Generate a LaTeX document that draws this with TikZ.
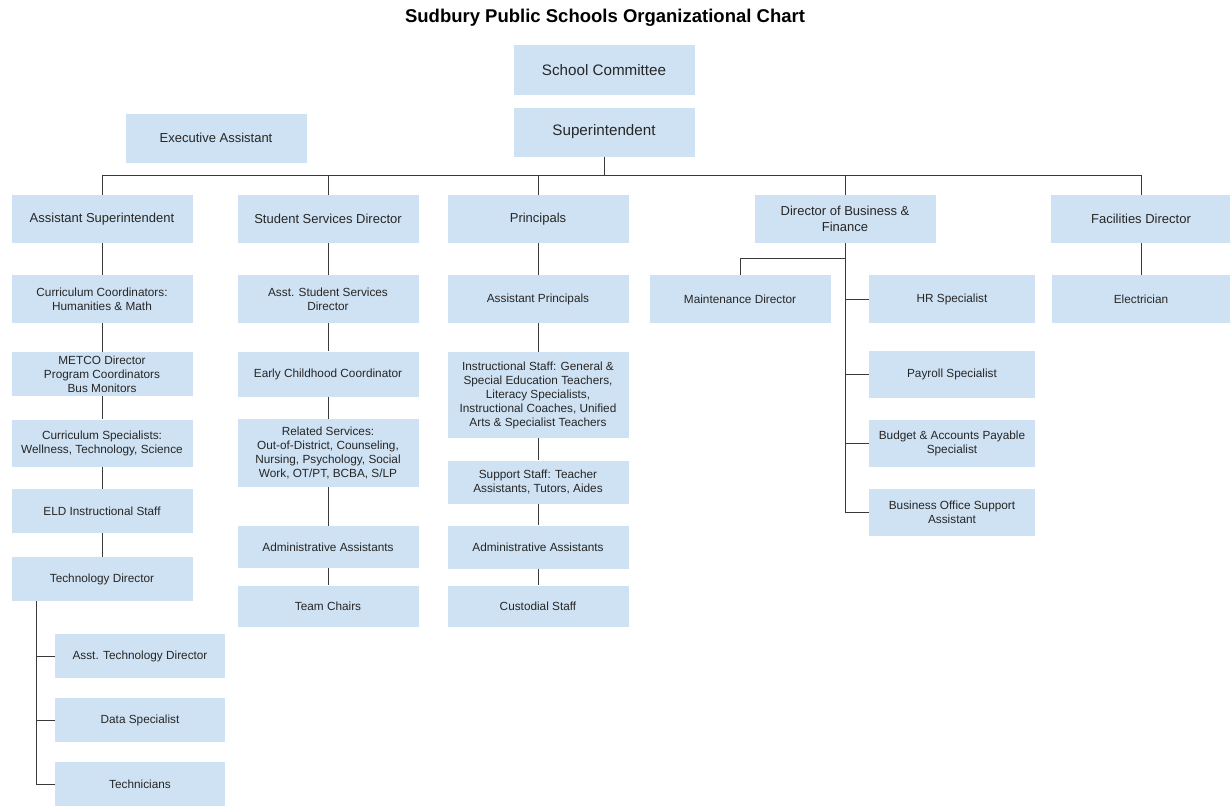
\documentclass[tikz,border=0pt]{standalone}
\usepackage{fontspec}
\setmainfont{Liberation Sans}
\definecolor{boxblue}{HTML}{CFE2F3}
\definecolor{linegray}{HTML}{3A3A3A}
\tikzset{
  box/.style={fill=boxblue, inner sep=0pt, align=center, text=black!85,
    font=\fontsize{11.8}{14}\selectfont, minimum width=181pt, minimum height=48pt},
  headbox/.style={box, font=\fontsize{13}{15.5}\selectfont},
  topbox/.style={box, font=\fontsize{15.2}{18}\selectfont},
  subbox/.style={box, minimum width=170pt, minimum height=44pt},
  link/.style={draw=linegray, line width=0.9pt}
}
\begin{document}
\begin{tikzpicture}[x=1pt, y=-1pt]
            \useasboundingbox (0,0) rectangle (1230,806);
            \node[text=black, font=\bfseries\fontsize{18.5}{22}\selectfont] (title) at (605,18) {Sudbury Public Schools Organizational Chart};
            \node[topbox, minimum height=50pt] (sc) at (604,70) {School Committee};
            \node[topbox, minimum height=49pt] (sup) at (604,132) {Superintendent};
            \node[headbox, minimum height=49pt] (exa) at (216,138) {Executive Assistant};
            \node[headbox] (asup) at (102,219) {Assistant Superintendent};
            \node[headbox] (ssd) at (328,219) {Student Services Director};
            \node[headbox] (prn) at (538,219) {Principals};
            \node[headbox] (dbf) at (845,219) {Director of Business \&\\Finance};
            \node[headbox, minimum width=180pt] (fac) at (1141,219) {Facilities Director};
            \node[box] (cc) at (102,299) {Curriculum Coordinators:\\Humanities \& Math};
            \node[box, minimum height=44pt] (metco) at (102,374) {METCO Director\\Program Coordinators\\Bus Monitors};
            \node[box, minimum height=47pt] (cs) at (102,443) {Curriculum Specialists:\\Wellness, Technology, Science};
            \node[box, minimum height=44pt] (eld) at (102,511) {ELD Instructional Staff};
            \node[box, minimum height=44pt] (td) at (102,579) {Technology Director};
            \node[subbox] (ats) at (140,656) {Asst. Technology Director};
            \node[subbox] (ds) at (140,720) {Data Specialist};
            \node[subbox] (tech) at (140,784) {Technicians};
            \node[box] (assd) at (328,299) {Asst. Student Services\\Director};
            \node[box, minimum height=45pt] (ecc) at (328,374) {Early Childhood Coordinator};
            \node[box, minimum height=68pt] (rs) at (328,453) {Related Services:\\Out-of-District, Counseling,\\Nursing, Psychology, Social\\Work, OT/PT, BCBA, S/LP};
            \node[box, minimum height=42pt] (aa2) at (328,547) {Administrative Assistants};
            \node[box, minimum height=41pt] (tc) at (328,606) {Team Chairs};
            \node[box] (ap) at (538,299) {Assistant Principals};
            \node[box, minimum height=86pt] (ins) at (538,395) {Instructional Staff: General \&\\Special Education Teachers,\\Literacy Specialists,\\Instructional Coaches, Unified\\Arts \& Specialist Teachers};
            \node[box, minimum height=43pt] (sst) at (538,482) {Support Staff: Teacher\\Assistants, Tutors, Aides};
            \node[box, minimum height=43pt] (aa3) at (538,547) {Administrative Assistants};
            \node[box, minimum height=41pt] (cus) at (538,606) {Custodial Staff};
            \node[box] (maint) at (740,299) {Maintenance Director};
            \node[box, minimum width=166pt] (hr) at (952,299) {HR Specialist};
            \node[box, minimum width=166pt, minimum height=47pt] (pay) at (952,374) {Payroll Specialist};
            \node[box, minimum width=166pt, minimum height=47pt] (bud) at (952,443) {Budget \& Accounts Payable\\Specialist};
            \node[box, minimum width=166pt, minimum height=47pt] (boa) at (952,512) {Business Office Support\\Assistant};
            \node[box, minimum width=179pt] (elec) at (1141,299) {Electrician};
            \coordinate (bus) at (0,175);
            \coordinate (mbr) at (0,258);
            \coordinate (tdv) at (36,0);
            \draw[link] (sup) -- (sup |- bus);
            \draw[link] (asup.north) -- (asup.north |- bus) -- (fac.north |- bus) -- (fac.north);
            \foreach \n in {ssd,prn,dbf}
                \draw[link] (\n.north) -- (\n.north |- bus);
            \foreach \a/\b in {asup/cc,cc/metco,metco/cs,cs/eld,eld/td,ssd/assd,assd/ecc,ecc/rs,rs/aa2,aa2/tc,prn/ap,ap/ins,ins/sst,sst/aa3,aa3/cus,fac/elec}
                \draw[link] (\a) -- (\b);
            \draw[link] (td.south -| tdv) |- (tech.west);
            \foreach \n in {ats,ds}
                \draw[link] (\n.west -| tdv) -- (\n.west);
            \draw[link] (dbf.south) |- (boa.west);
            \foreach \n in {hr,pay,bud}
                \draw[link] (dbf.south |- \n.west) -- (\n.west);
            \draw[link] (dbf.south |- mbr) -| (maint.north);
        \end{tikzpicture}
\end{document}
